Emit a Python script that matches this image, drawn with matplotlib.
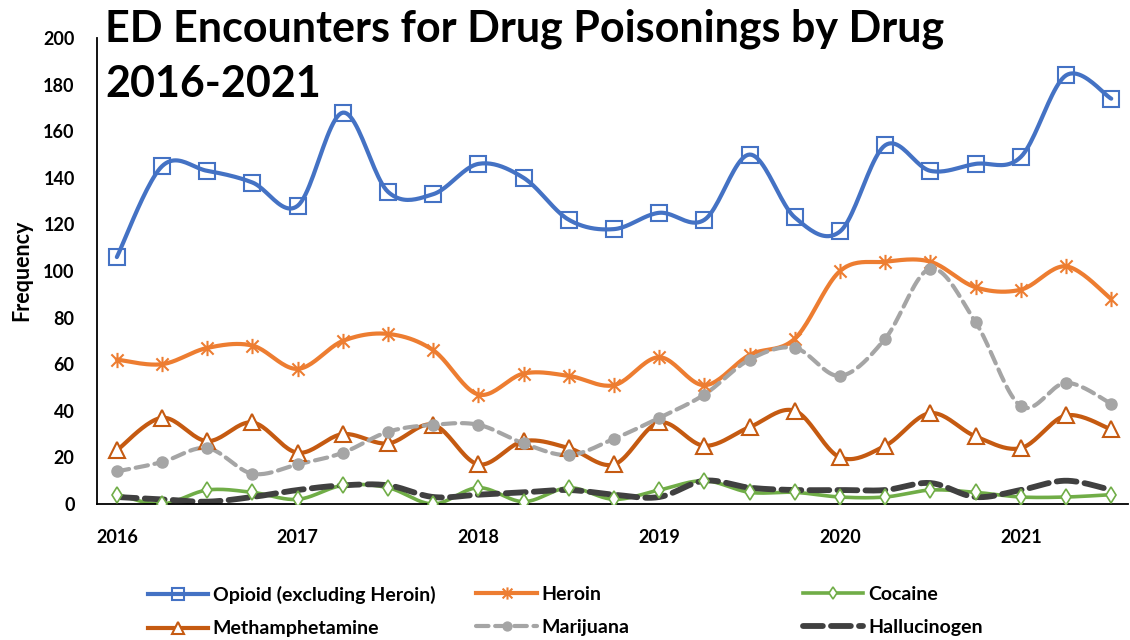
import numpy as np
import matplotlib
matplotlib.use("Agg")
import matplotlib.pyplot as plt
from matplotlib.path import Path
from matplotlib.lines import Line2D

plt.rcParams['font.family'] = ['Lato', 'DejaVu Sans']
plt.rcParams['font.weight'] = 'bold'

# quarterly counts, 2016 Q1 .. 2021 Q3
quarters = 2016 + np.arange(23) / 4.0
opioid = [106, 145, 143, 138, 128, 168, 134, 133, 146, 140, 122, 118,
          125, 122, 150, 123, 117, 154, 143, 146, 149, 184, 174]
heroin = [62, 60, 67, 68, 58, 70, 73, 66, 47, 56, 55, 51,
          63, 51, 64, 71, 100, 104, 104, 93, 92, 102, 88]
cocaine = [4, 0, 6, 5, 2, 8, 7, 0, 7, 1, 7, 2,
           6, 10, 5, 5, 3, 3, 6, 5, 3, 3, 4]
meth = [23, 37, 27, 35, 22, 30, 26, 34, 17, 27, 24, 17,
        35, 25, 33, 40, 20, 25, 39, 29, 24, 38, 32]
marijuana = [14, 18, 24, 13, 17, 22, 31, 34, 34, 26, 21, 28,
             37, 47, 62, 67, 55, 71, 101, 78, 42, 52, 43]
hallucinogen = [3, 2, 1, 3, 6, 8, 8, 3, 4, 5, 6, 4,
                3, 10, 7, 6, 6, 6, 9, 3, 6, 10, 6]
years = [2016, 2017, 2018, 2019, 2020, 2021]


def smooth(x, y, n=24):
    # Bezier smoothing through every point, like spreadsheet "smoothed line"
    x = np.asarray(x, float)
    y = np.asarray(y, float)
    pts = np.column_stack([x, y])
    ext = np.vstack([pts[0], pts, pts[-1]])
    out = []
    t = np.linspace(0, 1, n)[:, None]
    for i in range(len(pts) - 1):
        p0, p1, p2, p3 = ext[i], ext[i + 1], ext[i + 2], ext[i + 3]
        c1 = p1 + (p2 - p0) / 6.0
        c2 = p2 - (p3 - p1) / 6.0
        seg = ((1 - t) ** 3 * p1 + 3 * (1 - t) ** 2 * t * c1
               + 3 * (1 - t) * t ** 2 * c2 + t ** 3 * p2)
        out.append(seg if i == 0 else seg[1:])
    seg = np.vstack(out)
    return seg[:, 0], seg[:, 1]


star = Path([(-1, -1), (1, 1), (-1, 1), (1, -1), (0, -1.25), (0, 1.25)],
            [Path.MOVETO, Path.LINETO, Path.MOVETO, Path.LINETO,
             Path.MOVETO, Path.LINETO])

series = [
    ("Opioid (excluding Heroin)", opioid,
     dict(color='#4472C4', lw=3.0, ls='-'),
     dict(marker='s', ms=11, mfc='none', mec='#4472C4', mew=1.5)),
    ("Heroin", heroin,
     dict(color='#ED7D31', lw=3.0, ls='-'),
     dict(marker=star, ms=11, mfc='none', mec='#ED7D31', mew=1.5)),
    ("Cocaine", cocaine,
     dict(color='#70AD47', lw=2.6, ls='-'),
     dict(marker='d', ms=8, mfc='white', mec='#70AD47', mew=1.2)),
    ("Methamphetamine", meth,
     dict(color='#C55A11', lw=3.0, ls='-'),
     dict(marker='^', ms=11, mfc='white', mec='#C55A11', mew=1.5)),
    ("Marijuana", marijuana,
     dict(color='#A5A5A5', lw=3.0, ls=(0, (3, 1.6)), dash_capstyle='round'),
     dict(marker='o', ms=8, mfc='#A5A5A5', mec='#A5A5A5', mew=1)),
    ("Hallucinogen", hallucinogen,
     dict(color='#404040', lw=4.2, ls=(0, (3.4, 1.4)), dash_capstyle='round'),
     None),
]

fig = plt.figure(figsize=(11.3, 6.4), dpi=100)
ax = fig.add_axes([0.0858, 0.2125, 0.912, 0.728])

handles = {}
for name, vals, lstyle, mstyle in series:
    sx, sy = smooth(quarters, vals)
    ax.plot(sx, sy, solid_capstyle='round', zorder=2, **lstyle)
    if mstyle is not None:
        ax.plot(quarters, vals, ls='none', zorder=3, **mstyle)
        handles[name] = Line2D([], [], **lstyle, **dict(mstyle, ms=mstyle['ms'] * 0.8))
    else:
        handles[name] = Line2D([], [], **lstyle)

ax.set_xlim(2016 - 0.11, 2021.59)
ax.set_ylim(0, 200)
ax.set_yticks(range(0, 201, 20))
ax.set_xticks(years)
ax.set_xticklabels([str(y) for y in years])
ax.tick_params(axis='both', length=0, labelsize=13)
ax.tick_params(axis='y', pad=16)
ax.tick_params(axis='x', pad=18)
for lbl in ax.get_xticklabels() + ax.get_yticklabels():
    lbl.set_fontweight('bold')
for side in ('top', 'right'):
    ax.spines[side].set_visible(False)
for side in ('left', 'bottom'):
    ax.spines[side].set_color('black')
    ax.spines[side].set_linewidth(1.3)

fig.text(0.0195, 0.578, "Frequency", rotation=90, fontsize=15.5,
         fontweight='bold', ha='center', va='center')

fig.text(0.093, 0.987, "ED Encounters for Drug Poisonings by Drug\n2016-2021",
         fontsize=31, fontweight='bold', ha='left', va='top', linespacing=1.45)

# three legend columns placed separately so their spacing can be set
columns = [
    (0.122, ["Opioid (excluding Heroin)", "Methamphetamine"]),
    (0.413, ["Heroin", "Marijuana"]),
    (0.702, ["Cocaine", "Hallucinogen"]),
]
for xpos, names in columns:
    fig.legend([handles[n] for n in names], names, loc='upper left',
               bbox_to_anchor=(xpos, 0.1), frameon=False,
               handlelength=3.1, handletextpad=0.25, labelspacing=0.85,
               borderpad=0, prop={'size': 14, 'weight': 'bold'})

fig.savefig("out.png", dpi=100)
